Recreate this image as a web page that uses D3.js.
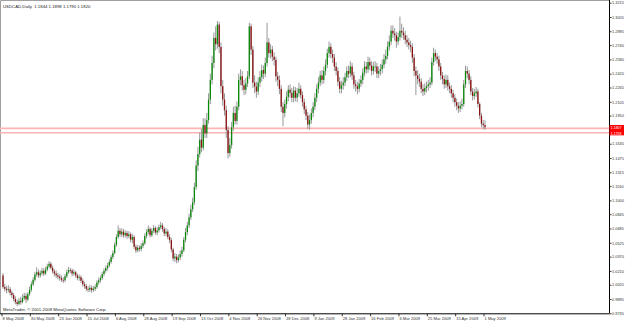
<!DOCTYPE html>
<html>
<head>
<meta charset="utf-8">
<script src="https://cdn.jsdelivr.net/npm/d3@7"></script>
<style>
body { margin: 0; background: #fff; }
svg text { font-family: "Liberation Sans", Arial, sans-serif; }
</style>
</head>
<body>
<div class="chart"></div>
<script>
// USDCAD daily bars, 8 May 2008 - 1 May 2009
const symbolTitle = "USDCAD,Daily";
const lastQuote = ["1.1844", "1.1898", "1.1790", "1.1820"];
const copyright = "MetaTrader, \u00a9 2001-2008 MetaQuotes Software Corp.";

const dateLabels = ["8 May 2008", "30 May 2008", "23 Jun 2008", "15 Jul 2008", "6 Aug 2008",
  "28 Aug 2008", "19 Sep 2008", "13 Oct 2008", "4 Nov 2008", "26 Nov 2008", "18 Dec 2008",
  "9 Jan 2009", "28 Jan 2009", "16 Feb 2009", "6 Mar 2009", "25 Mar 2009", "15 Apr 2009", "1 May 2009"];
const barsPerLabel = 16;

// the 1.1792 level sits under the red price tags, so it is not listed
const priceLabels = ["1.3215", "1.3055", "1.2895", "1.2740", "1.2580", "1.2420", "1.2265", "1.2105",
  "1.1950", "1.1635", "1.1475", "1.1315", "1.1160", "1.1000", "1.0845", "1.0685",
  "1.0525", "1.0370", "1.0210", "1.0055", "0.9895", "0.9735"];

const hLines = [1.1807, 1.1758];

const opens = [
1.0160,1.0030,1.0010,0.9995,1.0005,0.9965,0.9940,0.9895,0.9860,0.9840,
0.9875,0.9860,0.9905,0.9930,0.9890,0.9950,1.0000,1.0060,1.0110,1.0170,
1.0195,1.0160,1.0185,1.0210,1.0180,1.0225,1.0260,1.0290,1.0245,1.0205,
1.0180,1.0160,1.0145,1.0130,1.0110,1.0105,1.0150,1.0195,1.0220,1.0215,
1.0180,1.0195,1.0160,1.0130,1.0140,1.0100,1.0060,1.0040,1.0010,1.0000,
1.0020,0.9995,1.0010,1.0030,1.0080,1.0105,1.0130,1.0175,1.0210,1.0240,
1.0270,1.0310,1.0365,1.0410,1.0500,1.0590,1.0660,1.0620,1.0650,1.0610,
1.0635,1.0600,1.0620,1.0560,1.0590,1.0480,1.0440,1.0470,1.0455,1.0490,
1.0520,1.0600,1.0645,1.0680,1.0610,1.0660,1.0690,1.0640,1.0665,1.0700,
1.0720,1.0680,1.0630,1.0650,1.0590,1.0555,1.0450,1.0350,1.0370,1.0330,
1.0360,1.0400,1.0440,1.0560,1.0645,1.0720,1.0810,1.0900,1.0980,1.1150,
1.1390,1.1520,1.1680,1.1590,1.1845,1.1750,1.1900,1.2130,1.2350,1.2540,
1.2820,1.2750,1.2970,1.2720,1.2280,1.2130,1.2010,1.1790,1.1530,1.1620,
1.1820,1.1980,1.1890,1.2050,1.2350,1.2390,1.2290,1.2240,1.2310,1.2390,
1.2950,1.2690,1.2320,1.2275,1.2220,1.2320,1.2380,1.2460,1.2420,1.2540,
1.2770,1.2650,1.2690,1.2610,1.2575,1.2390,1.2350,1.2250,1.2050,1.1980,
1.2080,1.2160,1.2240,1.2205,1.2150,1.2230,1.2150,1.2200,1.2250,1.2180,
1.2100,1.2020,1.1950,1.1850,1.1900,1.1980,1.2050,1.2150,1.2250,1.2320,
1.2400,1.2350,1.2450,1.2520,1.2650,1.2720,1.2640,1.2600,1.2500,1.2450,
1.2330,1.2250,1.2290,1.2320,1.2380,1.2450,1.2420,1.2500,1.2400,1.2300,
1.2280,1.2250,1.2310,1.2350,1.2430,1.2500,1.2470,1.2550,1.2510,1.2450,
1.2500,1.2500,1.2420,1.2450,1.2470,1.2520,1.2580,1.2620,1.2720,1.2780,
1.2900,1.2870,1.2850,1.2780,1.2830,1.2900,1.2880,1.2850,1.2800,1.2770,
1.2740,1.2720,1.2600,1.2450,1.2400,1.2360,1.2330,1.2250,1.2220,1.2260,
1.2280,1.2300,1.2320,1.2550,1.2650,1.2610,1.2580,1.2500,1.2400,1.2360,
1.2300,1.2350,1.2280,1.2250,1.2200,1.2150,1.2100,1.2060,1.2030,1.2060,
1.2080,1.2300,1.2450,1.2420,1.2350,1.2220,1.2170,1.2200,1.2220,1.2080,
1.1950,1.1860,1.1844];

const highs = [
1.0185,1.0065,1.0040,1.0050,1.0030,0.9990,0.9965,0.9925,0.9890,0.9905,
0.9920,0.9950,0.9965,0.9960,0.9975,1.0035,1.0090,1.0140,1.0200,1.0250,
1.0225,1.0215,1.0245,1.0240,1.0255,1.0290,1.0320,1.0310,1.0270,1.0230,
1.0215,1.0190,1.0175,1.0160,1.0140,1.0175,1.0225,1.0255,1.0245,1.0235,
1.0225,1.0210,1.0180,1.0170,1.0160,1.0125,1.0090,1.0065,1.0040,1.0055,
1.0045,1.0040,1.0060,1.0105,1.0135,1.0160,1.0200,1.0240,1.0270,1.0300,
1.0340,1.0390,1.0440,1.0530,1.0620,1.0720,1.0690,1.0685,1.0680,1.0665,
1.0660,1.0655,1.0640,1.0625,1.0610,1.0505,1.0500,1.0495,1.0520,1.0550,
1.0630,1.0675,1.0720,1.0700,1.0690,1.0725,1.0710,1.0700,1.0730,1.0760,
1.0745,1.0705,1.0690,1.0675,1.0620,1.0580,1.0470,1.0410,1.0400,1.0395,
1.0440,1.0480,1.0590,1.0690,1.0760,1.0850,1.0950,1.1030,1.1200,1.1450,
1.1600,1.1760,1.1800,1.1920,1.1920,1.1980,1.2200,1.2420,1.2620,1.2880,
1.2950,1.3010,1.3000,1.2770,1.2350,1.2200,1.2060,1.1830,1.1700,1.1880,
1.2050,1.2060,1.2110,1.2420,1.2470,1.2450,1.2350,1.2370,1.2450,1.2990,
1.2980,1.2730,1.2400,1.2330,1.2380,1.2450,1.2520,1.2510,1.2600,1.2990,
1.2820,1.2750,1.2730,1.2660,1.2610,1.2440,1.2400,1.2290,1.2100,1.2130,
1.2220,1.2290,1.2300,1.2260,1.2280,1.2270,1.2260,1.2320,1.2290,1.2220,
1.2140,1.2060,1.1990,1.1960,1.2030,1.2100,1.2200,1.2300,1.2380,1.2450,
1.2460,1.2500,1.2580,1.2700,1.2780,1.2760,1.2690,1.2640,1.2550,1.2490,
1.2380,1.2340,1.2380,1.2430,1.2500,1.2510,1.2560,1.2540,1.2440,1.2350,
1.2330,1.2360,1.2400,1.2480,1.2560,1.2550,1.2610,1.2600,1.2560,1.2550,
1.2560,1.2540,1.2500,1.2530,1.2580,1.2640,1.2690,1.2780,1.2850,1.2960,
1.2960,1.2930,1.2890,1.2880,1.3060,1.2980,1.2940,1.2900,1.2850,1.2820,
1.2790,1.2760,1.2640,1.2500,1.2460,1.2420,1.2370,1.2300,1.2310,1.2330,
1.2350,1.2380,1.2600,1.2710,1.2690,1.2650,1.2620,1.2540,1.2440,1.2400,
1.2410,1.2400,1.2320,1.2290,1.2240,1.2190,1.2140,1.2100,1.2110,1.2140,
1.2350,1.2510,1.2500,1.2460,1.2390,1.2260,1.2250,1.2270,1.2250,1.2100,
1.1980,1.1900,1.1898];

const lows = [
1.0010,0.9980,0.9960,0.9970,0.9935,0.9905,0.9870,0.9835,0.9815,0.9825,
0.9830,0.9845,0.9880,0.9850,0.9870,0.9930,0.9975,1.0040,1.0090,1.0145,
1.0130,1.0135,1.0160,1.0150,1.0165,1.0205,1.0240,1.0225,1.0180,1.0150,
1.0130,1.0115,1.0100,1.0085,1.0075,1.0085,1.0130,1.0175,1.0185,1.0150,
1.0155,1.0135,1.0105,1.0100,1.0075,1.0035,1.0010,0.9985,0.9970,0.9975,
0.9965,0.9975,0.9985,1.0010,1.0055,1.0080,1.0110,1.0150,1.0190,1.0215,
1.0250,1.0290,1.0340,1.0395,1.0480,1.0570,1.0595,1.0590,1.0580,1.0585,
1.0570,1.0575,1.0530,1.0520,1.0455,1.0410,1.0420,1.0425,1.0430,1.0465,
1.0500,1.0575,1.0620,1.0585,1.0590,1.0635,1.0615,1.0610,1.0640,1.0675,
1.0650,1.0600,1.0600,1.0565,1.0520,1.0420,1.0320,1.0310,1.0295,1.0305,
1.0330,1.0370,1.0420,1.0530,1.0610,1.0690,1.0780,1.0870,1.0950,1.1120,
1.1330,1.1480,1.1540,1.1560,1.1700,1.1700,1.1860,1.2080,1.2300,1.2480,
1.2680,1.2700,1.2650,1.2200,1.2060,1.1950,1.1700,1.1470,1.1490,1.1580,
1.1780,1.1850,1.1850,1.2010,1.2290,1.2230,1.2180,1.2190,1.2270,1.2360,
1.2630,1.2260,1.2200,1.2150,1.2180,1.2270,1.2330,1.2360,1.2380,1.2500,
1.2600,1.2590,1.2560,1.2510,1.2330,1.2280,1.2190,1.1990,1.1830,1.1930,
1.2030,1.2110,1.2150,1.2100,1.2100,1.2110,1.2100,1.2160,1.2140,1.2050,
1.1970,1.1900,1.1800,1.1790,1.1860,1.1930,1.2010,1.2100,1.2200,1.2280,
1.2300,1.2310,1.2400,1.2480,1.2600,1.2590,1.2540,1.2450,1.2400,1.2280,
1.2200,1.2200,1.2240,1.2280,1.2340,1.2370,1.2380,1.2350,1.2250,1.2220,
1.2190,1.2210,1.2270,1.2300,1.2390,1.2420,1.2430,1.2460,1.2400,1.2410,
1.2440,1.2370,1.2370,1.2400,1.2420,1.2480,1.2530,1.2580,1.2680,1.2740,
1.2820,1.2790,1.2710,1.2740,1.2790,1.2820,1.2800,1.2750,1.2720,1.2690,
1.2660,1.2540,1.2390,1.2180,1.2300,1.2270,1.2200,1.2170,1.2180,1.2210,
1.2230,1.2260,1.2290,1.2510,1.2560,1.2530,1.2450,1.2350,1.2300,1.2250,
1.2260,1.2230,1.2200,1.2150,1.2100,1.2050,1.2010,1.1980,1.1990,1.2020,
1.2050,1.2260,1.2370,1.2300,1.2180,1.2120,1.2130,1.2160,1.2040,1.1910,
1.1820,1.1800,1.1790];

const closes = [
1.0030,1.0010,0.9995,1.0005,0.9965,0.9940,0.9895,0.9860,0.9840,0.9875,
0.9860,0.9905,0.9930,0.9890,0.9950,1.0000,1.0060,1.0110,1.0170,1.0195,
1.0160,1.0185,1.0210,1.0180,1.0225,1.0260,1.0290,1.0245,1.0205,1.0180,
1.0160,1.0145,1.0130,1.0110,1.0105,1.0150,1.0195,1.0220,1.0215,1.0180,
1.0195,1.0160,1.0130,1.0140,1.0100,1.0060,1.0040,1.0010,1.0000,1.0020,
0.9995,1.0010,1.0030,1.0080,1.0105,1.0130,1.0175,1.0210,1.0240,1.0270,
1.0310,1.0365,1.0410,1.0500,1.0590,1.0660,1.0620,1.0650,1.0610,1.0635,
1.0600,1.0620,1.0560,1.0590,1.0480,1.0440,1.0470,1.0455,1.0490,1.0520,
1.0600,1.0645,1.0680,1.0610,1.0660,1.0690,1.0640,1.0665,1.0700,1.0720,
1.0680,1.0630,1.0650,1.0590,1.0555,1.0450,1.0350,1.0370,1.0330,1.0360,
1.0400,1.0440,1.0560,1.0645,1.0720,1.0810,1.0900,1.0980,1.1150,1.1390,
1.1520,1.1680,1.1590,1.1845,1.1750,1.1900,1.2130,1.2350,1.2540,1.2820,
1.2750,1.2970,1.2720,1.2280,1.2130,1.2010,1.1790,1.1530,1.1620,1.1820,
1.1980,1.1890,1.2050,1.2350,1.2390,1.2290,1.2240,1.2310,1.2390,1.2950,
1.2690,1.2320,1.2275,1.2220,1.2320,1.2380,1.2460,1.2420,1.2540,1.2770,
1.2650,1.2690,1.2610,1.2575,1.2390,1.2350,1.2250,1.2050,1.1980,1.2080,
1.2160,1.2240,1.2205,1.2150,1.2230,1.2150,1.2200,1.2250,1.2180,1.2100,
1.2020,1.1950,1.1850,1.1900,1.1980,1.2050,1.2150,1.2250,1.2320,1.2400,
1.2350,1.2450,1.2520,1.2650,1.2720,1.2640,1.2600,1.2500,1.2450,1.2330,
1.2250,1.2290,1.2320,1.2380,1.2450,1.2420,1.2500,1.2400,1.2300,1.2280,
1.2250,1.2310,1.2350,1.2430,1.2500,1.2470,1.2550,1.2510,1.2450,1.2500,
1.2500,1.2420,1.2450,1.2470,1.2520,1.2580,1.2620,1.2720,1.2780,1.2900,
1.2870,1.2850,1.2780,1.2830,1.2900,1.2880,1.2850,1.2800,1.2770,1.2740,
1.2720,1.2600,1.2450,1.2400,1.2360,1.2330,1.2250,1.2220,1.2260,1.2280,
1.2300,1.2320,1.2550,1.2650,1.2610,1.2580,1.2500,1.2400,1.2360,1.2300,
1.2350,1.2280,1.2250,1.2200,1.2150,1.2100,1.2060,1.2030,1.2060,1.2080,
1.2300,1.2450,1.2420,1.2350,1.2220,1.2170,1.2200,1.2220,1.2080,1.1950,
1.1860,1.1844,1.1820];

const W = 625, H = 322;
const axisX = 609, axisY = 313.3;
const fs = 3.9;

const svg = d3.select('.chart').append('svg')
    .attr('width', W)
    .attr('height', H)
    .style('display', 'block');

svg.append('rect').attr('width', W).attr('height', H).attr('fill', '#fff');

const bars = closes.map((c, i) => ({ i: i, o: opens[i], h: highs[i], l: lows[i], c: c }));

const xScale = d3.scaleLinear()
    .domain([0, bars.length - 1])
    .range([3, 485]);

const yScale = d3.scaleLinear()
    .domain([0.9735, 1.3215])
    .range([axisY, 2.7]);

// outer frame (left / top light, right / bottom are the axes)
svg.append('path')
    .attr('d', `M0.5,${axisY} V0.5 H${axisX}`)
    .attr('fill', 'none')
    .attr('stroke', '#a0a0a0');

// horizontal lines
svg.selectAll('.hline')
    .data(hLines)
    .enter()
    .append('line')
    .attr('class', 'hline')
    .attr('x1', 0)
    .attr('x2', axisX)
    .attr('y1', d => yScale(d))
    .attr('y2', d => yScale(d))
    .attr('stroke', '#ffb4b4')
    .attr('stroke-width', 1.6);

// candles
const bw = 1.3;
const candle = svg.append('g').selectAll('g')
    .data(bars)
    .enter()
    .append('g');

candle.append('line')
    .attr('x1', d => xScale(d.i))
    .attr('x2', d => xScale(d.i))
    .attr('y1', d => yScale(d.h))
    .attr('y2', d => yScale(d.l))
    .attr('stroke', '#8c8c8c')
    .attr('stroke-width', 0.9);

candle.append('rect')
    .attr('x', d => xScale(d.i) - bw / 2)
    .attr('y', d => yScale(Math.max(d.o, d.c)))
    .attr('width', bw)
    .attr('height', d => Math.max(0.8, Math.abs(yScale(d.o) - yScale(d.c))))
    .attr('fill', d => d.c >= d.o ? '#0a8a0a' : '#8a1212');

// price axis on the right
const yAxis = d3.axisRight(yScale)
    .tickValues(priceLabels.map(Number))
    .tickFormat((d, i) => priceLabels[i])
    .tickSize(2.5)
    .tickPadding(0.5);

const gy = svg.append('g')
    .attr('transform', `translate(${axisX},0)`)
    .call(yAxis);
gy.select('.domain').attr('d', `M0.5,0V${axisY}`).attr('stroke', '#000');
gy.selectAll('text').attr('font-size', fs).attr('fill', '#333').attr('font-family', null);
gy.selectAll('line').attr('stroke', '#333').attr('x1', 0.5);

// date axis at the bottom
const xAxis = d3.axisBottom(xScale)
    .tickValues(dateLabels.map((d, k) => k * barsPerLabel))
    .tickFormat((d, k) => dateLabels[k])
    .tickSize(3)
    .tickPadding(1);

const gx = svg.append('g')
    .attr('transform', `translate(0,${axisY})`)
    .call(xAxis);
gx.select('.domain').attr('d', `M0,0.5H${axisX + 0.5}`).attr('stroke', '#000');
gx.selectAll('.tick line').attr('stroke', '#333').attr('transform', 'translate(-1.5,0)');
gx.selectAll('text')
    .attr('font-size', 4.1)
    .attr('fill', '#333')
    .attr('font-family', null)
    .attr('text-anchor', 'start')
    .attr('x', -1);

// red price tags for the horizontal lines
const tagTop = yScale(hLines[0]) - 3.4;
const tagBottom = yScale(hLines[1]) + 2.6;
svg.append('rect')
    .attr('x', axisX + 0.5)
    .attr('y', tagTop)
    .attr('width', 14.5)
    .attr('height', tagBottom - tagTop)
    .attr('fill', '#ff0000');
svg.selectAll('.tag')
    .data(hLines)
    .enter()
    .append('text')
    .attr('class', 'tag')
    .attr('x', axisX + 1.8)
    .attr('y', (d, i) => yScale(d) + (i === 0 ? 0.7 : 2))
    .attr('font-size', 3.5)
    .attr('fill', '#fff')
    .text(d => d.toFixed(4));

// header and copyright
svg.append('text')
    .attr('x', 3)
    .attr('y', 7.5)
    .attr('font-size', 4.3)
    .attr('fill', '#222')
    .attr('xml:space', 'preserve')
    .text(symbolTitle + '  ' + lastQuote.join(' '));

svg.append('text')
    .attr('x', 3)
    .attr('y', 311)
    .attr('font-size', 4.3)
    .attr('fill', '#222')
    .text(copyright);
</script>
</body>
</html>
